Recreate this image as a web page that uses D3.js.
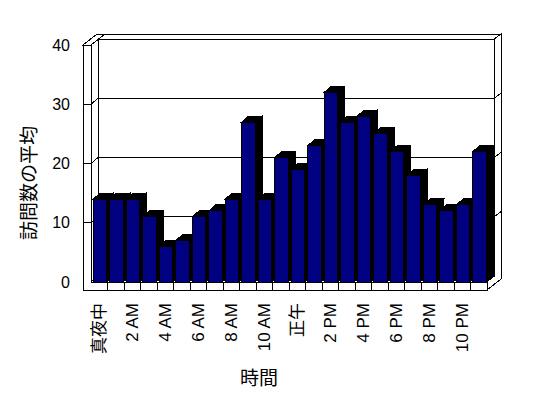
<!DOCTYPE html>
<html>
<head>
<meta charset="utf-8">
<script src="https://cdn.jsdelivr.net/npm/d3@7"></script>
<style>
  body { margin: 0; background: #fff; }
  text { font-family: "Liberation Sans", "Noto Sans CJK JP", sans-serif; fill: #000; }
</style>
</head>
<body>
<div id="chart"></div>
<script>
// Data
const hours = ["真夜中", "1 AM", "2 AM", "3 AM", "4 AM", "5 AM", "6 AM", "7 AM",
  "8 AM", "9 AM", "10 AM", "11 AM", "正午", "1 PM", "2 PM", "3 PM", "4 PM",
  "5 PM", "6 PM", "7 PM", "8 PM", "9 PM", "10 PM", "11 PM"];
const visits = [14, 14, 14, 11, 6, 7, 11, 12, 14, 27, 14, 21,
  19, 23, 32, 27, 28, 25, 22, 18, 13, 12, 13, 22];
const yTicks = [0, 10, 20, 30, 40];
const yTitle = "訪問数の平均";
const xTitle = "時間";

// Dimensions
const chartW = 548, chartH = 398;
const plotL = 91, plotR = 487, plotB = 282, plotT = 45;
const DX = 7, DY = -6;      // depth of plot (front -> back wall)
const WX = 7, WY = -5;      // thickness of back wall
const T = 8;                // thickness of left wall / floor

const svg = d3.select("#chart").append("svg")
  .attr("width", chartW).attr("height", chartH)
  .style("shape-rendering", "crispEdges");

// Scales
const y = d3.scaleLinear().domain([0, 40]).range([plotB, plotT]);
const xCat = d3.scaleBand().domain(hours).range([plotL, plotR]);
const xBar = d3.scaleBand().domain(hours).range([plotL, plotR])
  .paddingInner(0.19).paddingOuter(0.095).align(0.7);

const pts = (a) => a.map((p) => p.join(",")).join(" ");
const face = (points, fill) => svg.append("polygon")
  .attr("points", pts(points))
  .attr("fill", fill || "#fff")
  .attr("stroke", "#000")
  .attr("stroke-width", 1);

const bx0 = plotL + DX, bx1 = plotR + DX;       // back wall
const byTop = y(40) + DY, byBot = plotB + DY;

// back wall
face([[bx0, byTop], [bx1, byTop], [bx1 + WX, byTop + WY], [bx0 + WX, byTop + WY]]);
face([[bx1, byTop], [bx1 + WX, byTop + WY], [bx1 + WX, plotB + DY + WY + 8],
  [plotR, plotB + T], [plotR, plotB], [bx1, byBot]]);
face([[bx0, byTop], [bx1, byTop], [bx1, byBot], [bx0, byBot]]);

// left wall inner face
face([[plotL, y(40)], [bx0, byTop], [bx0, byBot], [plotL, plotB]]);
// left wall top
face([[plotL - T, y(40)], [plotL, y(40)], [plotL + DX + WX, y(40) + DY + WY],
  [plotL - T + DX + WX, y(40) + DY + WY]]);
// front faces of left wall and floor
face([[plotL - T, y(40)], [plotL, y(40)], [plotL, plotB], [plotR, plotB],
  [plotR, plotB + T], [plotL - T, plotB + T]]);

// gridlines
const grid = yTicks.filter((d) => d > 0 && d < 40);
grid.forEach((v) => {
  const yf = y(v), yb = y(v) + DY;
  svg.append("polyline")
    .attr("points", pts([[plotL, yf], [bx0, yb], [bx1, yb], [bx1 + WX, yb + WY]]))
    .attr("fill", "none").attr("stroke", "#000");
});
// ticks on the left wall front face
yTicks.filter((d) => d > 0).forEach((v) => {
  svg.append("line")
    .attr("x1", plotL - T).attr("x2", plotL)
    .attr("y1", y(v)).attr("y2", y(v))
    .attr("stroke", "#000");
});
// category dividers on the floor front face
hours.slice(1).forEach((h) => {
  svg.append("line")
    .attr("x1", xCat(h)).attr("x2", xCat(h))
    .attr("y1", plotB).attr("y2", plotB + T)
    .attr("stroke", "#000");
});

// bars
const bw = xBar.bandwidth();
hours.forEach((h, i) => {
  const x0 = xBar(h), x1 = x0 + bw, yt = y(visits[i]);
  face([[x0, yt], [x1, yt], [x1 + DX, yt + DY], [x0 + DX, yt + DY]], "#000");
  face([[x1, yt], [x1 + DX, yt + DY], [x1 + DX, plotB + DY], [x1, plotB]], "#000");
  svg.append("rect")
    .attr("x", x0).attr("y", yt)
    .attr("width", bw).attr("height", plotB - yt)
    .attr("fill", "#000080").attr("stroke", "#000");
});

// y axis labels
const yAxis = d3.axisLeft(y).tickValues(yTicks).tickSize(0).tickPadding(13);
const gY = svg.append("g")
  .attr("transform", `translate(${plotL - T},0)`)
  .call(yAxis);
gY.select(".domain").remove();
gY.selectAll(".tick text")
  .attr("fill", "#000")
  .style("font-size", "16px")
  .style("font-family", "'Liberation Sans', sans-serif");

// x axis labels (every other hour)
hours.forEach((h, i) => {
  if (i % 2) return;
  const cx = xCat(h) + xCat.bandwidth() / 2;
  const latin = /[A-Z]/.test(h);
  svg.append("text")
    .attr("transform", `translate(${cx},${plotB + 21}) rotate(-90)`)
    .attr("text-anchor", "end")
    .attr("dy", "0.35em")
    .attr("fill", "#000")
    .style("font-family", latin ? "'Liberation Sans', sans-serif" : "'Noto Sans CJK JP', sans-serif")
    .style("font-size", latin ? "17px" : "17px")
    .text(h);
});

// titles
svg.append("text")
  .attr("transform", `translate(29,183) rotate(-90)`)
  .attr("text-anchor", "middle")
  .attr("dy", "0.35em")
  .style("font-family", "'Noto Sans CJK JP', sans-serif")
  .style("font-size", "19px")
  .text(yTitle);

svg.append("text")
  .attr("x", 259).attr("y", 378)
  .attr("text-anchor", "middle")
  .attr("dy", "0.35em")
  .style("font-family", "'Noto Sans CJK JP', sans-serif")
  .style("font-size", "19px")
  .text(xTitle);
</script>
</body>
</html>
